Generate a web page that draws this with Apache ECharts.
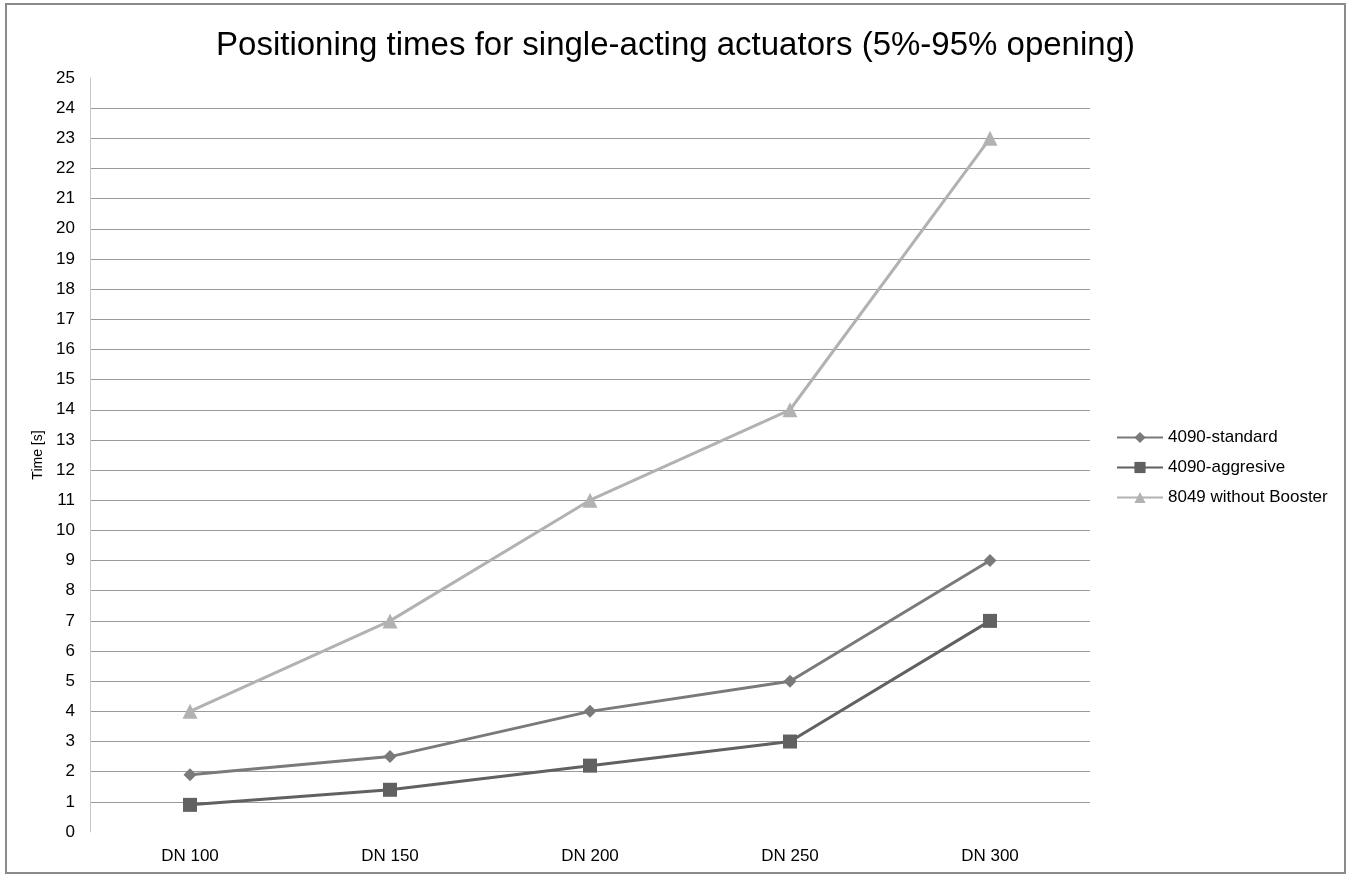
<!DOCTYPE html>
<html><head><meta charset="utf-8">
<script src="https://cdn.jsdelivr.net/npm/echarts@6/dist/echarts.min.js"></script>
<style>html,body{margin:0;padding:0;background:#fff}#c{width:1351px;height:877px}</style>
</head><body><div id="c"></div>
<script>
const categories = ['DN 100', 'DN 150', 'DN 200', 'DN 250', 'DN 300'];
const standard = [1.9, 2.5, 4, 5, 9];
const aggresive = [0.9, 1.4, 2.2, 3, 7];
const withoutBooster = [4, 7, 11, 14, 23];
const seriesNames = ['4090-standard', '4090-aggresive', '8049 without Booster'];

const chart = echarts.init(document.getElementById('c'));
const font = 'Liberation Sans, Arial, sans-serif';
chart.setOption({
  animation: false,
  backgroundColor: '#fff',
  graphic: [{ type: 'rect', shape: { x: 6, y: 4, width: 1339, height: 869 }, style: { fill: 'none', stroke: '#8a8a8a', lineWidth: 2 }, silent: true }],
  title: { text: 'Positioning times for single-acting actuators (5%-95% opening)', left: 'center', top: 24,
    textStyle: { fontFamily: font, fontSize: 33, fontWeight: 'normal', color: '#000' } },
  legend: { orient: 'vertical', left: 1111, top: 424, itemGap: 13, itemWidth: 46, itemHeight: 14,
    textStyle: { fontFamily: font, fontSize: 17, color: '#000' },
    data: seriesNames },
  grid: { left: 90, right: 261, top: 78, bottom: 45 },
  xAxis: { type: 'category', data: categories, boundaryGap: true,
    axisLine: { show: false }, axisTick: { show: false },
    axisLabel: { fontFamily: font, fontSize: 17, color: '#000', margin: 16 } },
  yAxis: { type: 'value', min: 0, max: 25, interval: 1,
    name: 'Time [s]', nameLocation: 'middle', nameGap: 44, nameRotate: 90,
    nameTextStyle: { fontFamily: font, fontSize: 14, color: '#000' },
    axisLine: { show: true, lineStyle: { color: '#c8c8c8', width: 1 } }, axisTick: { show: false },
    axisLabel: { fontFamily: font, fontSize: 17, color: '#000', margin: 15 },
    splitLine: { show: true, showMinLine: false, showMaxLine: false, lineStyle: { color: '#9a9a9a', width: 1 } } },
  series: [
    { name: seriesNames[0], type: 'line', data: standard, symbol: 'diamond', symbolSize: 13,
      itemStyle: { color: '#7a7a7a' }, lineStyle: { width: 3, color: '#7a7a7a' } },
    { name: seriesNames[1], type: 'line', data: aggresive, symbol: 'rect', symbolSize: 14,
      itemStyle: { color: '#616161' }, lineStyle: { width: 3, color: '#616161' } },
    { name: seriesNames[2], type: 'line', data: withoutBooster, symbol: 'triangle', symbolSize: 15,
      itemStyle: { color: '#b2b2b2' }, lineStyle: { width: 3, color: '#b2b2b2' } }
  ]
});
</script></body></html>
